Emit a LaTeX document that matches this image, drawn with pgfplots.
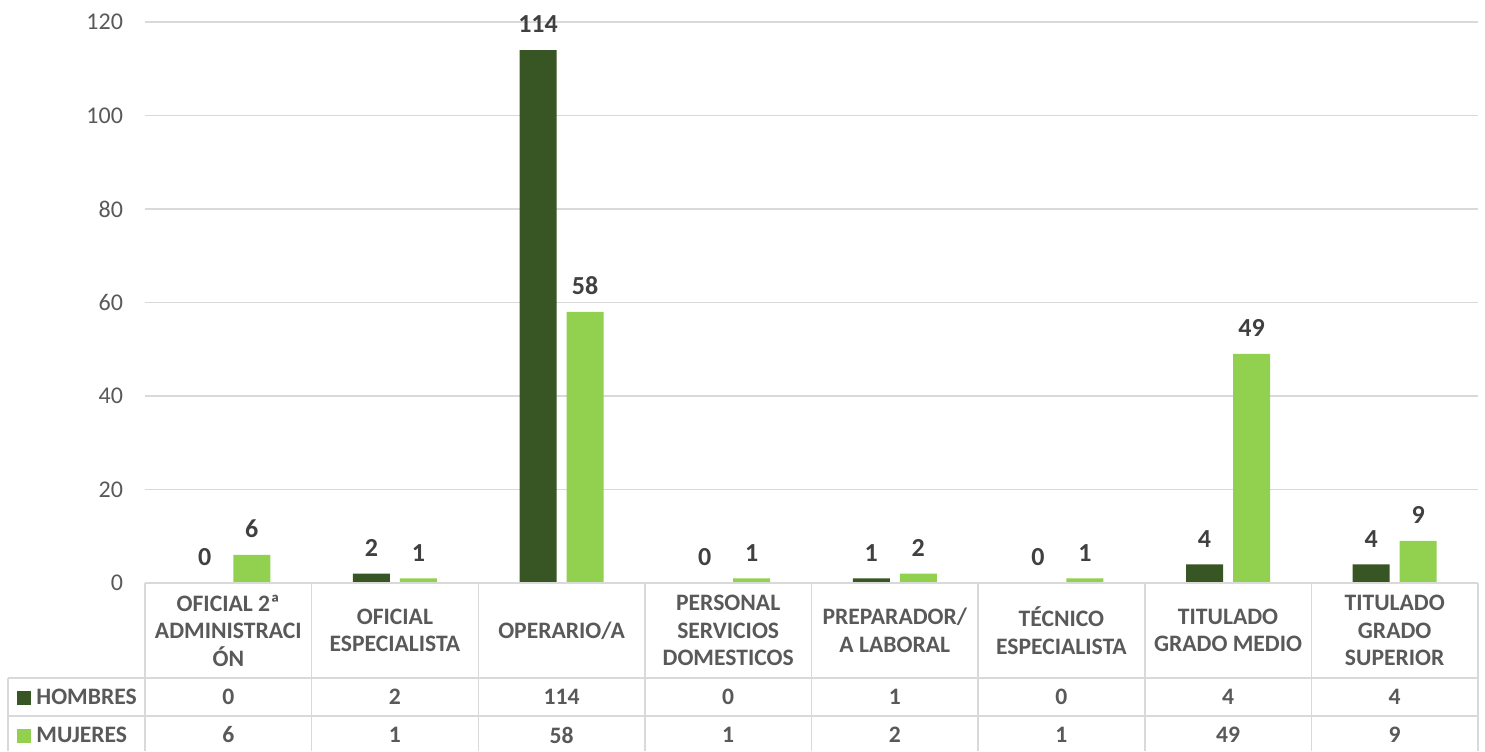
\documentclass[border=0pt]{standalone}
\usepackage{pgfplots}
\pgfplotsset{compat=1.18}
\usepackage{pgfplotstable}
\usepackage{fontspec}
\setmainfont{Carlito}
\definecolor{dk}{HTML}{375623}
\definecolor{lt}{HTML}{92D050}
\definecolor{gridc}{HTML}{D9D9D9}
\definecolor{txt}{HTML}{595959}
\definecolor{lbl}{HTML}{404040}
\pgfplotstableread{
x h m
0 0 6
1 2 1
2 114 58
3 0 1
4 1 2
5 0 1
6 4 49
7 4 9
}\datatable
\begin{document}
\begin{tikzpicture}
\begin{axis}[
  scale only axis, width=666.5pt, height=280.5pt,
  xmin=-0.5, xmax=7.5, ymin=0, ymax=120,
  ytick={0,20,...,120},
  ymajorgrids, grid style={gridc, line width=0.75pt},
  axis line style={draw=none},
  major tick length=0pt,
  /pgf/number format/assume math mode=true,
  xtick={0,...,7},
  xticklabels={{OFICIAL 2ª\\ADMINISTRACI\\ÓN},{OFICIAL\\ESPECIALISTA},{OPERARIO/A},{PERSONAL\\SERVICIOS\\DOMESTICOS},{PREPARADOR/\\A LABORAL},{TÉCNICO\\ESPECIALISTA},{TITULADO\\GRADO MEDIO},{TITULADO\\GRADO\\SUPERIOR}},
  xticklabel style={anchor=center, yshift=-23.75pt, align=center, font=\bfseries\fontsize{11.8}{13.75}\selectfont, text=txt},
  yticklabel style={font=\fontsize{12}{14}\selectfont, text=txt, xshift=-7.5pt},
  ybar, bar width=18.5pt,
  clip=false,
]
\addplot[fill=dk, draw=none, bar shift=-11.75pt, nodes near coords,
  nodes near coords style={font=\bfseries\fontsize{13}{15}\selectfont, text=lbl, yshift=5pt}]
  table[x=x, y=h] {\datatable};
\addplot[fill=lt, draw=none, bar shift=11.75pt, nodes near coords,
  nodes near coords style={font=\bfseries\fontsize{13}{15}\selectfont, text=lbl, yshift=5pt}]
  table[x=x, y=m] {\datatable};
% table value rows
\addplot[draw=none, fill=none, bar shift=0pt, nodes near coords, point meta=explicit,
  every node near coord/.style={anchor=center, yshift=-57pt, font=\bfseries\fontsize{11.8}{13.75}\selectfont, text=txt}]
  table[x=x, y expr=0, meta=h] {\datatable};
\addplot[draw=none, fill=none, bar shift=0pt, nodes near coords, point meta=explicit,
  every node near coord/.style={anchor=center, yshift=-76pt, font=\bfseries\fontsize{11.8}{13.75}\selectfont, text=txt}]
  table[x=x, y expr=0, meta=m] {\datatable};
% table grid
\draw[gridc, line width=0.75pt] (axis cs:-0.5,0) -- (axis cs:7.5,0);
\draw[gridc, line width=0.75pt] ([xshift=-68.5pt, yshift=-47.5pt]axis cs:-0.5,0) -- ([yshift=-47.5pt]axis cs:7.5,0);
\draw[gridc, line width=0.75pt] ([xshift=-68.5pt, yshift=-66.5pt]axis cs:-0.5,0) -- ([yshift=-66.5pt]axis cs:7.5,0);
\draw[gridc, line width=0.75pt] ([xshift=-68.5pt, yshift=-47.5pt]axis cs:-0.5,0) -- ([xshift=-68.5pt, yshift=-84pt]axis cs:-0.5,0);
\pgfplotsinvokeforeach{-0.5,0.5,1.5,2.5,3.5,4.5,5.5,6.5,7.5}{
  \draw[gridc, line width=0.75pt] (axis cs:#1,0) -- ([yshift=-84pt]axis cs:#1,0);
}
\node[anchor=west, font=\bfseries\fontsize{11.8}{13.75}\selectfont, text=txt, inner sep=0pt]
  at ([xshift=-64pt, yshift=-57pt]axis cs:-0.5,0) {{\color{dk}\rule{7pt}{7pt}}\hspace{2.5pt}HOMBRES};
\node[anchor=west, font=\bfseries\fontsize{11.8}{13.75}\selectfont, text=txt, inner sep=0pt]
  at ([xshift=-64pt, yshift=-76pt]axis cs:-0.5,0) {{\color{lt}\rule{7pt}{7pt}}\hspace{2.5pt}MUJERES};
\coordinate (bbl) at ([xshift=-72.5pt, yshift=-84pt]rel axis cs:0,0);
\coordinate (bbr) at ([xshift=3.5pt, yshift=11pt]rel axis cs:1,1);
\end{axis}
\pgfresetboundingbox
\path (bbl) rectangle (bbr);
\end{tikzpicture}
\end{document}
